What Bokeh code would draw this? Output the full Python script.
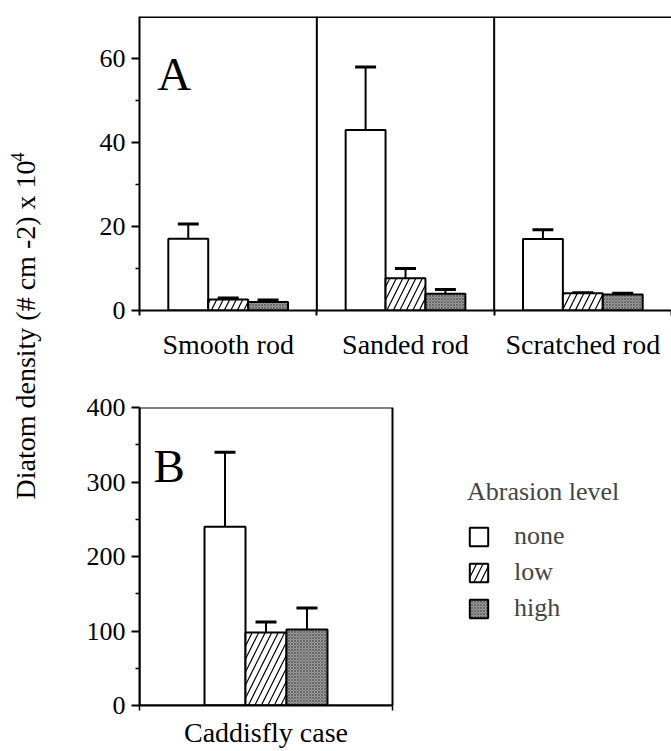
import math
from bokeh.plotting import figure
from bokeh.models import (FixedTicker, Whisker, TeeHead, Span, Label, Legend,
                          LegendItem, ColumnDataSource, Range1d, BoxAnnotation)
from bokeh.layouts import row, column
from bokeh.embed import file_html
from bokeh.resources import INLINE

# ---------------- data ----------------
categories_a = ["Smooth rod", "Sanded rod", "Scratched rod"]
levels = ["none", "low", "high"]
none_a = [17.1, 43.0, 17.0]
none_a_se = [3.5, 15.0, 2.2]
low_a = [2.6, 7.7, 4.1]
low_a_se = [0.4, 2.3, 0.1]
high_a = [2.0, 4.0, 3.8]
high_a_se = [0.5, 1.0, 0.3]

category_b = ["Caddisfly case"]
none_b = [240.0]
none_b_se = [100.0]
low_b = [98.0]
low_b_se = [14.0]
high_b = [102.0]
high_b_se = [29.0]

yticks_a = [0, 20, 40, 60]
yminor_a = [10, 30, 50]
yticks_b = [0, 100, 200, 300, 400]
yminor_b = [50, 150, 250, 350]

FONT = "Liberation Serif"
FS = "26px"
FS_CAT = "28px"

styles = {
    "none": dict(fill_color="white"),
    "low": dict(fill_color="white", hatch_pattern="right_diagonal_line",
                hatch_scale=13, hatch_weight=1.2, hatch_color="black"),
    "high": dict(fill_color="#a0a0a0", hatch_pattern="diagonal_cross",
                 hatch_scale=3, hatch_weight=0.6, hatch_color="#404040"),
}


def style_axes(p):
    for ax in (p.xaxis[0], p.yaxis[0]):
        ax.axis_line_width = 2
        ax.axis_line_color = "black"
        ax.major_tick_line_width = 2
        ax.minor_tick_line_width = 1.5
        ax.major_tick_in = 0
        ax.minor_tick_in = 0
        ax.major_label_text_font = FONT
        ax.major_label_text_font_size = FS
        ax.major_label_text_color = "black"
    p.xaxis[0].major_label_text_font_size = FS_CAT
    p.yaxis[0].major_tick_out = 8
    p.yaxis[0].minor_tick_out = 4
    p.yaxis[0].major_label_standoff = 6
    p.grid.visible = False


def draw_group(p, centers, values, ses, width):
    offsets = [-width, 0.0, width]
    rends = {}
    for lev, off in zip(levels, offsets):
        xs = [c + off for c in centers]
        src = ColumnDataSource(dict(x=xs, top=values[lev],
                                    upper=[v + s for v, s in zip(values[lev], ses[lev])]))
        r = p.vbar(x="x", top="top", bottom=0, width=width, source=src,
                   line_color="black", line_width=2, **styles[lev])
        p.add_layout(Whisker(base="x", lower="top", upper="upper", source=src,
                             line_width=2, line_color="black",
                             lower_head=None,
                             upper_head=TeeHead(size=21, line_width=3, line_color="black"),
                             level="underlay"))
        rends[lev] = r
    return rends


W_FIG = 621      # x 50 .. 671
H_A = 378        # y 0 .. 378
H_B = 372        # y 378 .. 750
H_ALL = H_A + H_B

# ---------------- panel A ----------------
pa = figure(width=W_FIG, height=H_A, output_backend="svg", toolbar_location=None,
            x_range=Range1d(0, 3), y_range=Range1d(0, 70),
            min_border_left=89, min_border_right=0, min_border_top=16,
            min_border_bottom=68, outline_line_color=None)
centers_a = [0.5, 1.5, 2.5]
draw_group(pa, centers_a,
           {"none": none_a, "low": low_a, "high": high_a},
           {"none": none_a_se, "low": low_a_se, "high": high_a_se}, 0.225)
style_axes(pa)
pa.yaxis[0].ticker = FixedTicker(ticks=yticks_a, minor_ticks=yminor_a)
pa.xaxis[0].ticker = FixedTicker(ticks=centers_a, minor_ticks=[0, 1, 2, 3])
pa.xaxis[0].major_label_overrides = {c: n for c, n in zip(centers_a, categories_a)}
pa.xaxis[0].major_tick_out = 0
pa.xaxis[0].minor_tick_out = 5
pa.xaxis[0].minor_tick_line_width = 2
pa.xaxis[0].major_label_standoff = 13
pa.add_layout(Span(location=70, dimension="width", line_color="black", line_width=3))
for b in (1, 2):
    pa.add_layout(Span(location=b, dimension="height", line_color="black", line_width=2))
pa.add_layout(Label(x=0.10, y=56.2, text="A", text_font=FONT, text_font_size="47px",
                    text_color="black", text_baseline="alphabetic"))

# ---------------- panel B ----------------
# frame spans the same width as panel A; the boxed panel occupies x in [0, 1]
pb = figure(width=W_FIG, height=H_B, output_backend="svg", toolbar_location=None,
            x_range=Range1d(0, 532 / 253), y_range=Range1d(0, 400),
            min_border_left=89, min_border_right=0, min_border_top=29,
            min_border_bottom=44, outline_line_color=None)
rb = draw_group(pb, [0.5],
                {"none": none_b, "low": low_b, "high": high_b},
                {"none": none_b_se, "low": low_b_se, "high": high_b_se}, 0.162)
style_axes(pb)
pb.yaxis[0].ticker = FixedTicker(ticks=yticks_b, minor_ticks=yminor_b)
pb.xaxis[0].ticker = FixedTicker(ticks=[0.5], minor_ticks=[0, 1])
pb.xaxis[0].bounds = (0, 1)
pb.xaxis[0].major_label_overrides = {0.5: category_b[0]}
pb.xaxis[0].major_tick_out = 0
pb.xaxis[0].minor_tick_out = 5
pb.xaxis[0].major_label_standoff = 6
pb.add_layout(BoxAnnotation(left=0, right=1, bottom=0, top=400, fill_alpha=0,
                            line_color="black", line_width=2, line_alpha=1))
pb.add_layout(Label(x=0.055, y=322, text="B", text_font=FONT, text_font_size="47px",
                    text_color="black", text_baseline="alphabetic"))

legend = Legend(items=[LegendItem(label=lev, renderers=[rb[lev]]) for lev in levels],
                title="Abrasion level", location=(328, 82),
                title_text_font=FONT, title_text_font_size=FS,
                title_text_font_style="normal", title_standoff=14,
                label_text_font=FONT, label_text_font_size=FS,
                glyph_width=23, glyph_height=23, label_standoff=24,
                spacing=6, padding=0, margin=0,
                border_line_color=None, background_fill_alpha=0)
pb.add_layout(legend)

# ---------------- y label ----------------
pl = figure(width=50, height=H_ALL, output_backend="svg", toolbar_location=None,
            min_border=0, outline_line_color=None, x_axis_type=None, y_axis_type=None)
pl.grid.visible = False
pl.add_layout(Label(x=25, y=H_ALL - 499, x_units="screen", y_units="screen",
                    text="Diatom density (# cm -2) x 10", angle=math.pi / 2,
                    text_font=FONT, text_font_size="28px", text_color="black",
                    text_align="left", text_baseline="middle"))
pl.add_layout(Label(x=17, y=H_ALL - 161, x_units="screen", y_units="screen",
                    text="4", angle=math.pi / 2,
                    text_font=FONT, text_font_size="18px", text_color="black",
                    text_align="left", text_baseline="middle"))

layout = row(pl, column(pa, pb))
open("out.html", "w").write(file_html(layout, INLINE))
